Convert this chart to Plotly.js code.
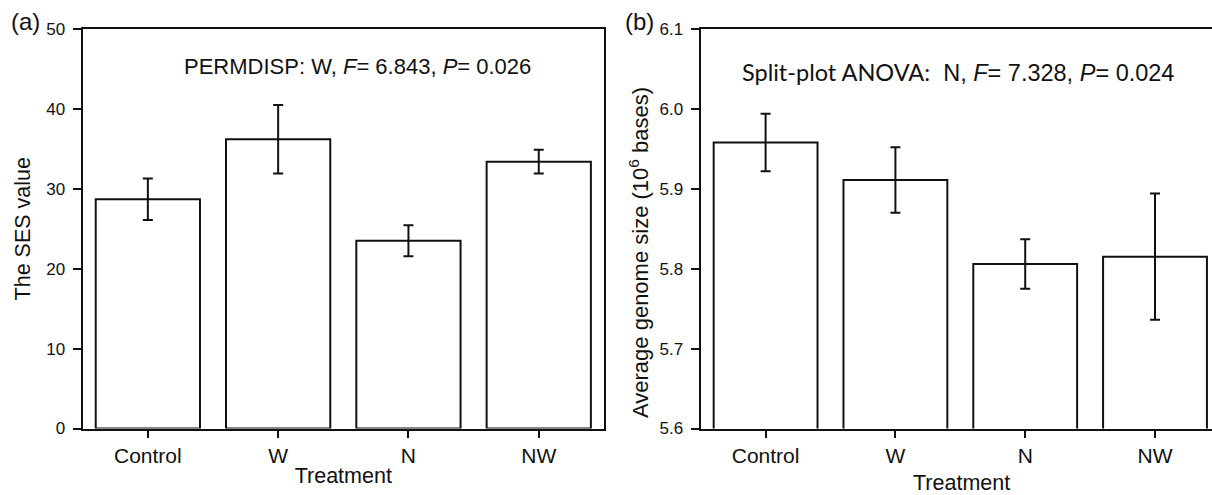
<!DOCTYPE html>
<html>
<head>
<meta charset="utf-8">
<script src="https://cdn.plot.ly/plotly-3.0.1.min.js"></script>
<style>
html,body{margin:0;padding:0;background:#fff;overflow:hidden;}
#chart{width:1212px;height:495px;}
</style>
</head>
<body>
<div id="chart"></div>
<script>
// ---- data ----
const categories = ['Control', 'W', 'N', 'NW'];
const sesMean = [28.7, 36.2, 23.5, 33.4];
const sesErr = [2.6, 4.3, 1.95, 1.5];
const genomeMean = [5.958, 5.911, 5.806, 5.815];
const genomeErr = [0.036, 0.041, 0.031, 0.079];
const panelLabels = ['(a)', '(b)'];
const yTicksA = [0, 10, 20, 30, 40, 50];
const yTicksB = [5.6, 5.7, 5.8, 5.9, 6.0, 6.1];
const yTickTextB = ['5.6', '5.7', '5.8', '5.9', '6.0', '6.1'];

const W = 1212, H = 495;
const ARIAL = '"Liberation Sans", Arial, sans-serif';
const INK = '#111';

function px(x) { return x / W; }
function py(y) { return (H - y) / H; }

const barStyle = {
  color: '#ffffff',
  line: { color: INK, width: 2 }
};
const errStyle = { type: 'data', visible: true, color: INK, thickness: 2, width: 5 };

const traces = [
  {
    type: 'bar', x: categories, y: sesMean, xaxis: 'x', yaxis: 'y',
    width: 0.8, marker: barStyle,
    error_y: Object.assign({ array: sesErr }, errStyle),
    showlegend: false, hoverinfo: 'x+y'
  },
  {
    type: 'bar', x: categories, y: genomeMean, xaxis: 'x2', yaxis: 'y2',
    width: 0.8, marker: barStyle,
    error_y: Object.assign({ array: genomeErr }, errStyle),
    showlegend: false, hoverinfo: 'x+y'
  }
];

const axisCommon = {
  showgrid: false, zeroline: false, showline: true,
  linecolor: INK, linewidth: 2.2,
  ticks: 'outside', tickcolor: INK, tickwidth: 2,
  fixedrange: true
};

const xTop = 29, xBottom = 428.5;

const layout = {
  width: W, height: H,
  margin: { l: 0, r: 0, t: 0, b: 0 },
  paper_bgcolor: '#fff', plot_bgcolor: '#fff',
  font: { family: ARIAL, color: INK },
  showlegend: false,
  xaxis: Object.assign({}, axisCommon, {
    domain: [px(82.7), px(603.9)],
    range: [-0.5, 3.5], type: 'category',
    mirror: true, ticklen: 7,
    tickfont: { family: ARIAL, size: 21, color: INK },
    title: { text: 'Treatment', font: { family: ARIAL, size: 21.5, color: INK }, standoff: 2 },
    anchor: 'y'
  }),
  yaxis: Object.assign({}, axisCommon, {
    domain: [py(xBottom), py(xTop)],
    range: [0, 50], tickvals: yTicksA,
    mirror: true, ticklen: 8, ticklabelstandoff: 4,
    tickfont: { family: ARIAL, size: 17, color: INK },
    title: { text: 'The SES value', font: { family: ARIAL, size: 21.5, color: INK }, standoff: 10 },
    anchor: 'x'
  }),
  xaxis2: Object.assign({}, axisCommon, {
    domain: [px(700.7), 1],
    range: [-0.5, 3.439], type: 'category',
    mirror: true, ticklen: 7,
    tickfont: { family: ARIAL, size: 21, color: INK },
    anchor: 'y2'
  }),
  yaxis2: Object.assign({}, axisCommon, {
    domain: [py(xBottom), py(xTop)],
    range: [5.6, 6.1], tickvals: yTicksB, ticktext: yTickTextB,
    mirror: false, ticklen: 8, ticklabelstandoff: 4,
    tickfont: { family: ARIAL, size: 17, color: INK },
    anchor: 'x2'
  }),
  annotations: [
    {
      xref: 'paper', yref: 'paper', x: px(25), y: py(22), xanchor: 'center', yanchor: 'middle',
      text: panelLabels[0], showarrow: false, font: { family: ARIAL, size: 24, color: INK }
    },
    {
      xref: 'paper', yref: 'paper', x: px(639), y: py(22), xanchor: 'center', yanchor: 'middle',
      text: panelLabels[1], showarrow: false, font: { family: ARIAL, size: 24, color: INK }
    },
    {
      xref: 'paper', yref: 'paper', x: px(357), y: py(67), xanchor: 'center', yanchor: 'middle',
      text: 'PERMDISP: W, <i>F</i>= 6.843, <i>P</i>= 0.026', showarrow: false,
      font: { family: ARIAL, size: 22, color: INK }
    },
    {
      xref: 'paper', yref: 'paper', x: px(740), y: py(72), xanchor: 'left', yanchor: 'middle',
      text: '<span style="font-family:Lato">Split-plot ANOVA:</span>\u00a0\u00a0N, <i>F</i>= 7.328, <i>P</i>= 0.024',
      showarrow: false, font: { family: ARIAL, size: 23.5, color: INK }
    },
    {
      xref: 'paper', yref: 'paper', x: px(639), y: py(253), xanchor: 'center', yanchor: 'middle',
      textangle: -90,
      text: 'Average genome size (10<sup>6</sup> bases)', showarrow: false,
      font: { family: ARIAL, size: 22, color: INK }
    },
    {
      xref: 'paper', yref: 'paper', x: px(961), y: py(483), xanchor: 'center', yanchor: 'middle',
      text: 'Treatment', showarrow: false,
      font: { family: ARIAL, size: 21.5, color: INK }
    }
  ]
};

Plotly.newPlot('chart', traces, layout, { displayModeBar: false, staticPlot: true });
</script>
</body>
</html>
